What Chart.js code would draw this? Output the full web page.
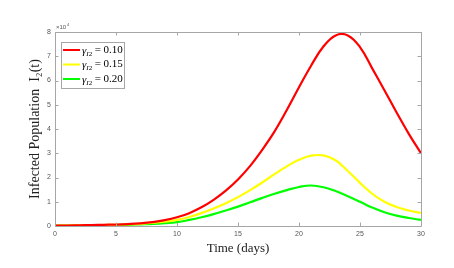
<!DOCTYPE html>
<html>
<head>
<meta charset="utf-8">
<script src="https://cdn.jsdelivr.net/npm/chart.js@4"></script>
<style>
html,body{margin:0;padding:0;background:#fff;}
#wrap{width:454px;height:268px;}
</style>
</head>
<body>
<div id="wrap"><canvas id="c" width="454" height="268"></canvas></div>
<script>
// ---- data (values in units of 10^4) ----
const timeDays = [0,1,2,3,4,5,6,7,8,9,10,11,12,13,14,15,16,17,18,19,20,21,22,23,24,25,26,27,28,29,30];
const gamma010 = [0.02,0.02,0.03,0.04,0.05,0.06,0.08,0.11,0.16,0.24,0.36,0.53,0.77,1.08,1.46,1.92,2.48,3.15,3.9,4.78,5.72,6.62,7.4,7.86,7.86,7.38,6.5,5.6,4.68,3.8,3.0];
const gamma015 = [0.02,0.02,0.03,0.03,0.04,0.05,0.07,0.09,0.13,0.18,0.25,0.37,0.53,0.72,0.94,1.19,1.48,1.8,2.14,2.46,2.73,2.9,2.91,2.71,2.27,1.78,1.33,1.0,0.78,0.64,0.54];
const gamma020 = [0.02,0.02,0.02,0.03,0.03,0.04,0.05,0.07,0.09,0.12,0.16,0.25,0.36,0.49,0.64,0.8,0.98,1.16,1.33,1.48,1.61,1.67,1.6,1.44,1.23,1.0,0.76,0.57,0.43,0.33,0.25];
const seriesLabels = ["γ_I2 = 0.10", "γ_I2 = 0.15", "γ_I2 = 0.20"];
const legendValues = ["0.10", "0.15", "0.20"];
const xTicks = [0,5,10,15,20,25,30];
const yTicks = [0,1,2,3,4,5,6,7,8];
const seriesColors = ["#ff0000", "#ffff00", "#00ff00"];

const AXIS = "#a6a6a6";
const TICKTXT = "#555555";

function pts(arr){ return timeDays.map((t,i)=>({x:t,y:arr[i]})); }

const boxTicks = {
  id: 'boxTicks',
  afterDraw(chart){
    const {ctx, chartArea:a, scales:{x,y}} = chart;
    ctx.save();
    ctx.strokeStyle = AXIS; ctx.lineWidth = 1;
    ctx.beginPath();
    ctx.rect(Math.round(a.left)+0.5, Math.round(a.top)+0.5, Math.round(a.right-a.left), Math.round(a.bottom-a.top));
    ctx.stroke();
    const L = 3.5;
    ctx.beginPath();
    xTicks.forEach(v=>{
      const px = Math.round(x.getPixelForValue(v))+0.5;
      ctx.moveTo(px, a.bottom); ctx.lineTo(px, a.bottom-L);
      ctx.moveTo(px, a.top); ctx.lineTo(px, a.top+L);
    });
    yTicks.forEach(v=>{
      const py = Math.round(y.getPixelForValue(v))+0.5;
      ctx.moveTo(a.left, py); ctx.lineTo(a.left+L, py);
      ctx.moveTo(a.right, py); ctx.lineTo(a.right-L, py);
    });
    ctx.stroke();
    // exponent label
    ctx.fillStyle = TICKTXT;
    ctx.font = "6px 'Liberation Sans', Arial, sans-serif";
    ctx.textBaseline = 'alphabetic';
    ctx.textAlign = 'left';
    ctx.fillText("×10", a.left+1, a.top-3);
    ctx.font = "4px 'Liberation Sans', Arial, sans-serif";
    ctx.fillText("4", a.left+12, a.top-6);
    // legend
    const bx = a.left+6, by = a.top+10, bw = 63, bh = 46;
    ctx.fillStyle = '#fff';
    ctx.fillRect(bx, by, bw, bh);
    ctx.strokeStyle = AXIS;
    ctx.strokeRect(bx+0.5, by+0.5, bw, bh);
    chart.data.datasets.forEach((ds,i)=>{
      const cy = by + 8 + i*14.5;
      ctx.strokeStyle = ds.borderColor; ctx.lineWidth = 2;
      ctx.beginPath(); ctx.moveTo(bx+2, cy); ctx.lineTo(bx+19, cy); ctx.stroke();
      ctx.fillStyle = '#000';
      let tx = bx+21;
      ctx.font = "italic 11px 'Liberation Serif', 'DejaVu Serif', serif";
      ctx.textBaseline = 'middle';
      ctx.fillText("γ", tx, cy+1); tx += ctx.measureText("γ").width;
      ctx.font = "italic 7px 'Liberation Serif', 'DejaVu Serif', serif";
      ctx.fillText("I", tx, cy+4); tx += ctx.measureText("I").width;
      ctx.font = "7px 'Liberation Serif', 'DejaVu Serif', serif";
      ctx.fillText("2", tx, cy+4); tx += ctx.measureText("2").width + 2.5;
      ctx.font = "11px 'Liberation Serif', 'DejaVu Serif', serif";
      ctx.fillText("= " + legendValues[i], tx, cy);
    });
    ctx.restore();
  }
};

new Chart(document.getElementById('c'), {
  type: 'line',
  data: {
    datasets: [0,1,2].map(i=>({
      label: seriesLabels[i],
      data: pts([gamma010,gamma015,gamma020][i]),
      borderColor: seriesColors[i],
      backgroundColor: seriesColors[i],
      borderWidth: 2.2,
      pointRadius: 0,
      tension: 0.4,
      fill: false
    }))
  },
  options: {
    responsive: false,
    animation: false,
    layout: {padding: {top: 32, right: 33, left: 0, bottom: 0}},
    plugins: {legend: {display: false}, tooltip: {enabled: false}},
    scales: {
      x: {
        type: 'linear', min: 0, max: 30,
        afterBuildTicks(s){ s.ticks = xTicks.map(v=>({value:v})); },
        afterFit(s){ s.height = 42; },
        grid: {display: false, drawTicks: false},
        border: {display: false},
        ticks: {color: TICKTXT, font: {family: "'Liberation Sans', Arial, sans-serif", size: 7}, padding: 4, maxRotation: 0},
        title: {display: true, text: 'Time (days)', color: '#222', font: {family: "'Liberation Serif', 'DejaVu Serif', serif", size: 13, lineHeight: 1.2}, padding: {top: 0, bottom: 12}}
      },
      y: {
        type: 'linear', min: 0, max: 8,
        afterBuildTicks(s){ s.ticks = yTicks.map(v=>({value:v})); },
        afterFit(s){ s.width = 55; },
        grid: {display: false, drawTicks: false},
        border: {display: false},
        ticks: {color: TICKTXT, font: {family: "'Liberation Sans', Arial, sans-serif", size: 7}, padding: 4},
        title: {display: true, text: 'Infected Population  I₂(t)', color: '#222', font: {family: "'Liberation Serif', 'DejaVu Serif', serif", size: 14, lineHeight: 1.2}, padding: {top: 27, bottom: 0}}
      }
    }
  },
  plugins: [boxTicks]
});
</script>
</body>
</html>
